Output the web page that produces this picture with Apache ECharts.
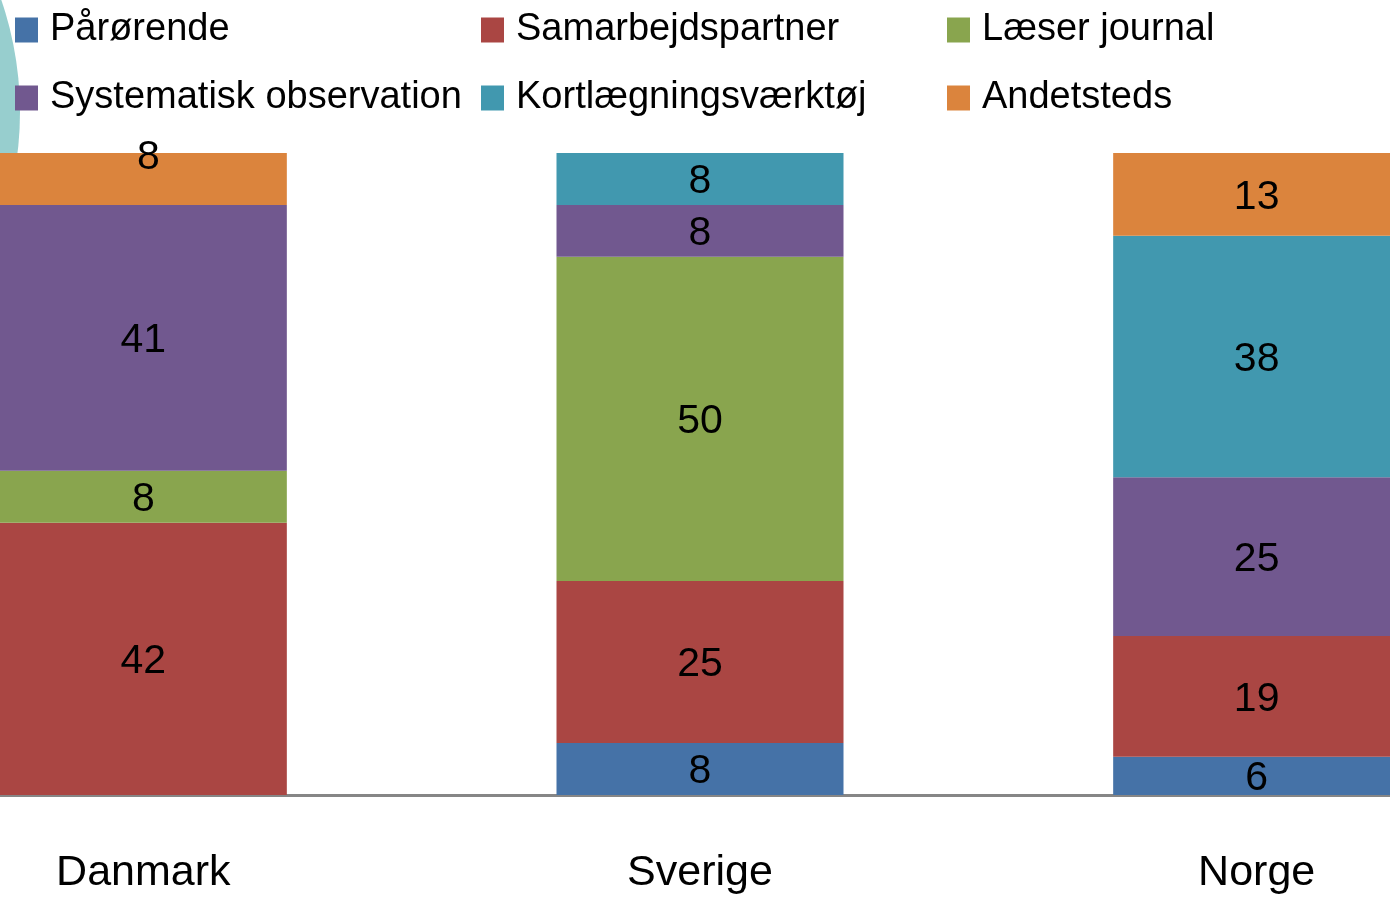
<!DOCTYPE html>
<html>
<head>
<meta charset="utf-8">
<script src="https://cdn.jsdelivr.net/npm/echarts@6/dist/echarts.min.js"></script>
<style>
  html, body { margin: 0; padding: 0; background: #fff; }
  #chart { width: 1390px; height: 901px; }
</style>
</head>
<body>
<div id="chart"></div>
<script>
// lande
var countries = ['Danmark', 'Sverige', 'Norge'];

// serier
var seriesNames = ['Pårørende', 'Samarbejdspartner', 'Læser journal',
    'Systematisk observation', 'Kortlægningsværktøj', 'Andetsteds'];
var paarorende        = [0, 8, 6];
var samarbejdspartner = [42, 25, 19];
var laeserJournal     = [8, 50, 0];
var systematisk       = [41, 8, 25];
var kortlaegning      = [0, 8, 38];
var andetsteds        = [8, 0, 13];

var colors = ['#4572A7', '#AA4643', '#89A54E', '#71588F', '#4198AF', '#DB843D'];
var font = 'Liberation Sans';

var allValues = [paarorende, samarbejdspartner, laeserJournal, systematisk, kortlaegning, andetsteds];

// total pr. land (stablet til 100 %)
var totals = countries.map(function (c, i) {
    var s = 0;
    allValues.forEach(function (arr) { s += arr[i]; });
    return s;
});

var series = allValues.map(function (arr, k) {
    return {
        name: seriesNames[k],
        type: 'bar',
        stack: 'total',
        barWidth: 287,
        itemStyle: { color: colors[k] },
        label: {
            show: true,
            position: 'inside',
            offset: [0, 3],
            color: '#000',
            fontFamily: font,
            fontSize: 41,
            formatter: function (p) { return arr[p.dataIndex]; }
        },
        data: arr.map(function (v, i) {
            if (v === 0) return '-';
            var item = { value: v / totals[i] * 100 };
            // Danmark, Andetsteds: label sidder oppe ved kanten
            if (k === 5 && i === 0) item.label = { offset: [5, -21] };
            return item;
        })
    };
});

var chart = echarts.init(document.getElementById('chart'));
chart.setOption({
    animation: false,
    backgroundColor: '#fff',
    graphic: [{
        type: 'circle',
        z: -10,
        shape: { cx: -325, cy: 112, r: 345 },
        style: { fill: '#97CECE' }
    }],
    legend: {
        left: 15,
        top: -4,
        padding: 0,
        width: 1400,
        itemGap: 0,
        itemWidth: 23,
        itemHeight: 25,
        icon: 'rect',
        data: seriesNames,
        textStyle: {
            fontFamily: font,
            fontSize: 38,
            color: '#000',
            width: 431,
            lineHeight: 68,
            padding: [0, 0, 0, 7]
        }
    },
    grid: {
        left: -135,
        right: -145,
        top: 153,
        bottom: 106,
        outerBoundsMode: 'none'
    },
    xAxis: {
        type: 'category',
        data: countries,
        axisTick: { show: false },
        axisLine: { lineStyle: { color: '#868686', width: 3 } },
        axisLabel: {
            color: '#000',
            fontFamily: font,
            fontSize: 43,
            margin: 57
        }
    },
    yAxis: {
        type: 'value',
        min: 0,
        max: 100,
        show: false,
        splitLine: { show: false }
    },
    series: series
});
</script>
</body>
</html>
